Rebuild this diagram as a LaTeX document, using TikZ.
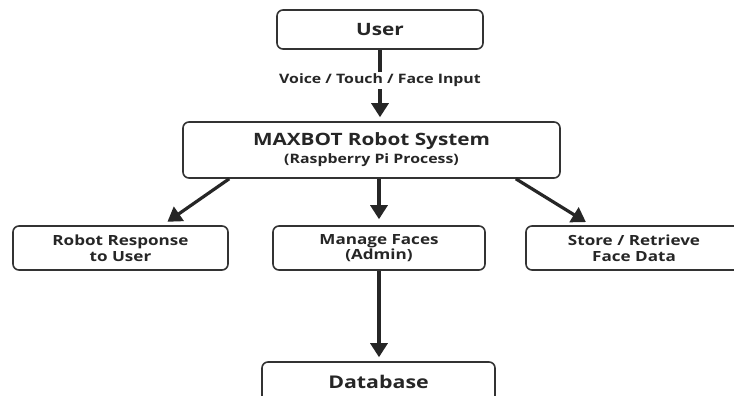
\documentclass[tikz,border=0pt]{standalone}
\usepackage{fontspec}
\setmainfont{Open Sans}[FakeStretch=1.22]
\usepackage{tikz}
\usetikzlibrary{arrows.meta}

\begin{document}
\begin{tikzpicture}[x=1pt, y=-1pt,
        box/.style={draw=black!80, line width=1.6pt, rounded corners=6pt,
            align=center, inner sep=0pt, text=black!85},
        flow/.style={-{Triangle[width=17pt,length=14pt]}, line width=3.2pt, black!85}]
        \useasboundingbox[fill=white] (0,0) rectangle (734,396);
        \node[box, minimum width=206pt, minimum height=39pt,
            font=\fontsize{17}{20}\selectfont\bfseries]
            (user) at (380,29.5) {User};
        \node[box, minimum width=377pt, minimum height=56pt]
            (maxbot) at (371.5,150)
            {{\fontsize{17}{20}\selectfont\bfseries MAXBOT Robot System}\\[3pt]
             {\fontsize{13}{15}\selectfont\bfseries (Raspberry Pi Process)}};
        \node[box, minimum width=215pt, minimum height=44pt,
            font=\fontsize{14}{15.5}\selectfont\bfseries]
            (response) at (120.5,248) {Robot Response\\to User};
        \node[box, minimum width=212pt, minimum height=44pt,
            font=\fontsize{14}{15.5}\selectfont\bfseries]
            (manage) at (379,248) {Manage Faces\\(Admin)};
        \node[box, minimum width=216pt, minimum height=44pt,
            font=\fontsize{14}{15.5}\selectfont\bfseries]
            (store) at (634,248) {Store / Retrieve\\Face Data};
        \node[box, minimum width=233pt, minimum height=40pt,
            font=\fontsize{17.5}{20}\selectfont\bfseries]
            (database) at (378.5,382) {Database};
        \draw[flow, shorten >=4pt]
            (user.south) -- (user.south |- maxbot.north)
            node[pos=0.43, fill=white, inner sep=2pt, text=black!85,
                font=\fontsize{13}{15}\selectfont\bfseries] {Voice / Touch / Face Input};
        \draw[flow, shorten >=6pt]
            ([xshift=47pt]maxbot.south west) -- ([xshift=42pt]response.north);
        \draw[flow, shorten >=6pt]
            (manage.north |- maxbot.south) -- (manage.north);
        \draw[flow, shorten >=6pt]
            ([xshift=-45pt]maxbot.south east) -- ([xshift=-43pt]store.north);
        \draw[flow, shorten >=4pt]
            (manage.south) -- (manage.south |- database.north);
    \end{tikzpicture}
\end{document}
